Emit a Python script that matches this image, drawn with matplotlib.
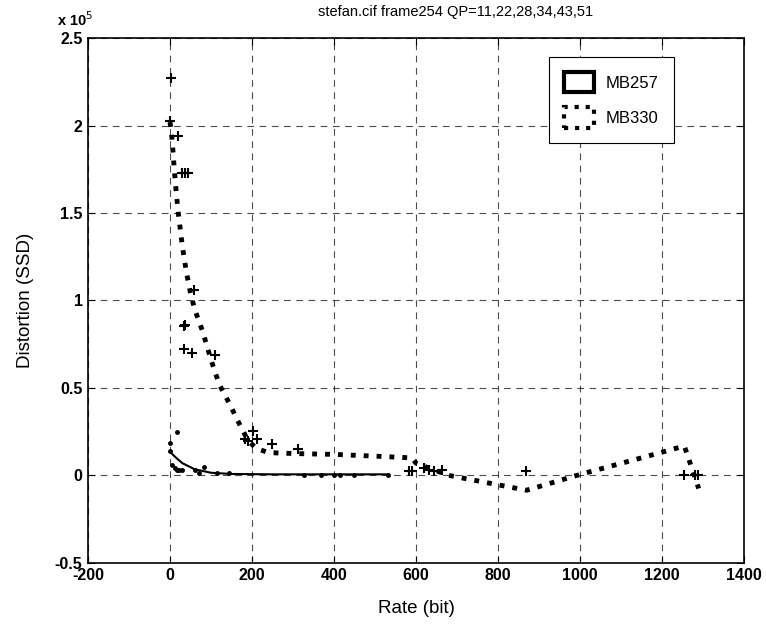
import matplotlib
matplotlib.use("Agg")
import matplotlib.pyplot as plt
from matplotlib.patches import Patch
from matplotlib.ticker import FuncFormatter, MultipleLocator

plt.rcParams['font.family'] = ['Liberation Sans', 'DejaVu Sans']
plt.rcParams['axes.unicode_minus'] = False

# MB330 measured points (rate in bits, distortion SSD)
mb330_rate = [3, 0, 20, 30, 37, 45, 59, 33, 36, 33, 54, 110,
              203, 183, 191, 211, 248, 312, 583, 591, 619, 631, 644, 664,
              868, 1253, 1281, 1289]
mb330_ssd = [227000, 202600, 194000, 173000, 173000, 173000, 106000, 85400, 86000, 72000, 70000, 69000,
             25500, 20600, 19700, 20600, 17800, 14900, 2400, 2400, 4300, 3300, 2400, 3300,
             2400, 500, 500, 500]

# MB330 fitted curve
mb330_fit_rate = [0, 5, 10, 15, 20, 30, 40, 50, 60, 80, 100, 120, 145, 170, 190, 210,
                  240, 300, 400, 500, 590, 600, 680, 870, 1000, 1150, 1255, 1290]
mb330_fit_ssd = [202000, 192000, 176000, 162000, 150000, 131000, 116000, 104000, 95000, 82000,
                 66000, 52000, 41000, 29000, 20000, 15500, 13000, 12500, 12000, 11000, 10000,
                 7000, 0, -8500, 500, 10000, 16800, -7500]

# MB257 measured points
mb257_rate = [17, 1, 1, 5, 12, 17, 22, 28, 62, 70, 82, 114, 143, 328, 369, 401, 415, 450, 533]
mb257_ssd = [25000, 18700, 14000, 6200, 4300, 3300, 3300, 3000, 3300, 1400, 4900, 1400, 1400,
             500, 500, 500, 500, 500, 500]

# MB257 fitted curve
mb257_fit_rate = [0, 15, 30, 60, 100, 150, 250, 533]
mb257_fit_ssd = [13400, 10000, 7000, 3500, 1500, 800, 600, 600]

fig = plt.figure(figsize=(7.66, 6.24), dpi=100)
ax = fig.add_axes([0.115, 0.098, 0.856, 0.841])

ax.plot(mb330_fit_rate, mb330_fit_ssd, color='black', linestyle=':', linewidth=3.5)
ax.plot(mb257_fit_rate, mb257_fit_ssd, color='black', linestyle='-', linewidth=1.5)
ax.plot(mb330_rate, mb330_ssd, '+', color='black', markersize=7, markeredgewidth=1.5)
ax.plot(mb257_rate, mb257_ssd, '.', color='black', markersize=5)

ax.set_xlim(-200, 1400)
ax.set_ylim(-50000, 250000)
ax.xaxis.set_major_locator(MultipleLocator(200))
ax.yaxis.set_major_locator(MultipleLocator(50000))
ax.yaxis.set_major_formatter(FuncFormatter(lambda v, p: '%g' % (v / 1e5)))

ax.grid(True, linestyle=(0, (6, 5)), color='black', linewidth=0.8, alpha=0.7)
ax.tick_params(direction='in', top=True, right=True, length=5, width=0.8,
               labelsize=11.5, pad=4)
for lab in ax.get_xticklabels() + ax.get_yticklabels():
    lab.set_fontweight('bold')
for sp in ax.spines.values():
    sp.set_linewidth(1.2)

ax.text(-0.047, 1.018, 'x 10$^{5}$', transform=ax.transAxes, ha='left', va='bottom',
        fontsize=10.5, fontweight='bold')

ax.set_title('stefan.cif frame254 QP=11,22,28,34,43,51', fontsize=10.5, pad=16, x=0.56)
ax.set_xlabel('Rate (bit)', fontsize=13.5, labelpad=12)
ax.set_ylabel('Distortion (SSD)', fontsize=13.5, labelpad=15)

handles = [Patch(facecolor='none', edgecolor='black', linewidth=3, linestyle='-'),
           Patch(facecolor='none', edgecolor='black', linewidth=3, linestyle=':')]
leg = ax.legend(handles, ['MB257', 'MB330'], loc='upper right', bbox_to_anchor=(0.893, 0.964),
                fontsize=12, fancybox=False, framealpha=1, edgecolor='black',
                handlelength=1.8, handleheight=1.5, handletextpad=0.7,
                borderpad=0.9, labelspacing=0.9, borderaxespad=0)
leg.get_frame().set_linewidth(0.8)

fig.savefig('out.png', dpi=100)
